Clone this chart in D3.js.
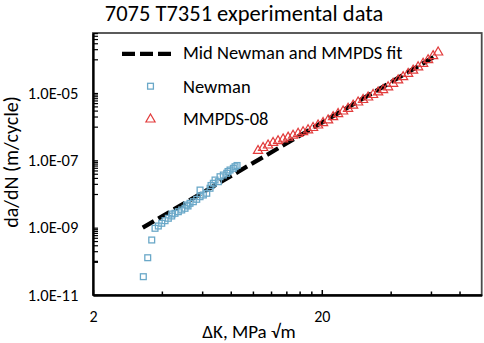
<!DOCTYPE html>
<html>
<head>
<meta charset="utf-8">
<script src="https://cdn.jsdelivr.net/npm/d3@7"></script>
<style>
  html, body { margin: 0; padding: 0; background: #fff; }
  svg text { font-family: Carlito, Lato, "Open Sans", sans-serif; fill: #000; }
</style>
</head>
<body>
<svg id="chart" width="484" height="343"></svg>
<script>
// ---- Data ----
const titleText = "7075 T7351 experimental data";
const xTitle = "ΔK, MPa √m";
const yTitle = "da/dN (m/cycle)";
const seriesNames = ["Mid Newman and MMPDS fit", "Newman", "MMPDS-08"];

// Fit line (Paris-type straight line in log-log)
const fitK    = [3.30, 64.0];
const fitRate = [1.0e-9, 1.35e-4];

// Newman data (ΔK, da/dN)
const newmanK = [3.319, 3.469, 3.612, 3.734, 3.860, 3.995, 4.130, 4.269, 4.417, 4.430, 4.566, 4.721,
  4.885, 5.050, 5.137, 5.205, 5.310, 5.491, 5.681, 5.874, 5.874, 6.073, 6.284, 6.496, 6.561, 6.714,
  6.831, 7.062, 7.183, 7.425, 7.684, 7.785, 7.943, 8.213, 8.354, 8.525];
const newmanRate = [3.50e-11, 1.28e-10, 4.30e-10, 9.57e-10, 1.12e-9, 1.35e-9, 1.61e-9, 1.90e-9, 2.22e-9, 2.54e-9, 2.67e-9, 2.98e-9,
  3.35e-9, 3.76e-9, 4.71e-9, 4.40e-9, 5.29e-9, 5.90e-9, 6.96e-9, 1.31e-8, 8.31e-9, 9.33e-9, 1.05e-8, 1.48e-8, 1.79e-8, 2.08e-8,
  2.60e-8, 2.32e-8, 3.26e-8, 3.66e-8, 4.12e-8, 4.66e-8, 5.16e-8, 5.79e-8, 6.46e-8, 7.02e-8];

// MMPDS-08 data (ΔK, da/dN)
const mmpdsK = [10.53, 11.08, 11.65, 12.25, 12.88, 13.55, 14.25, 14.98, 15.76, 16.57, 17.42, 18.32,
  19.27, 20.26, 21.31, 22.41, 23.57, 24.79, 26.06, 27.41, 28.83, 30.31, 31.88, 33.52, 35.26, 37.07,
  38.98, 41.00, 43.12, 45.34, 47.69, 50.14, 52.73, 55.46, 58.32, 61.33, 64.50];
const mmpdsRate = [2.03e-7, 2.49e-7, 2.95e-7, 3.50e-7, 3.96e-7, 4.48e-7, 5.06e-7, 5.77e-7, 6.57e-7, 7.33e-7, 8.34e-7, 9.76e-7,
  1.16e-6, 1.37e-6, 1.64e-6, 2.06e-6, 2.54e-6, 3.02e-6, 3.63e-6, 4.52e-6, 5.58e-6, 6.63e-6, 7.86e-6, 9.33e-6, 1.11e-5, 1.31e-5,
  1.58e-5, 2.01e-5, 2.53e-5, 3.17e-5, 3.95e-5, 4.95e-5, 6.20e-5, 7.88e-5, 1.01e-4, 1.33e-4, 1.71e-4];

// Axes
const xDomain = [2, 100];
const yDomain = [1e-11, 6.05e-4];
const xMajorTicks = [2, 20];
const xTickLabels = ["2", "20"];
const xMinorTicks = [4, 6, 8, 10, 12, 14, 16, 18, 40, 60, 80];
const yMajorTicks = [1e-11, 1e-9, 1e-7, 1e-5];
const yTickLabels = ["1.0E-11", "1.0E-09", "1.0E-07", "1.0E-05"];
const yMinorMultipliers = [1, 2, 3, 4, 5, 6, 7, 8, 9];
const yMinorDecades = [1e-10, 1e-8, 1e-6, 1e-4];

// ---- Layout ----
const W = 484, H = 343;
const plot = { left: 93, right: 481.7, top: 33, bottom: 295 };
const svg = d3.select("#chart");

const x = d3.scaleLog().domain(xDomain).range([plot.left, plot.right]);
const y = d3.scaleLog().domain(yDomain).range([plot.bottom, plot.top]);

const yMinorTicks = [];
yMinorDecades.forEach(d => yMinorMultipliers.forEach(m => {
  const v = d * m;
  if (v <= yDomain[1]) yMinorTicks.push(v);
}));

// Plot frame (top/right gray)
svg.append("rect")
  .attr("x", plot.left).attr("y", plot.top)
  .attr("width", plot.right - plot.left).attr("height", plot.bottom - plot.top)
  .attr("fill", "none").attr("stroke", "#4a4a4a").attr("stroke-width", 1.8);

// Fit line
const line = d3.line().x(d => x(d[0])).y(d => y(d[1]));
svg.append("path")
  .datum(fitK.map((k, i) => [k, fitRate[i]]))
  .attr("d", line)
  .attr("fill", "none").attr("stroke", "#000").attr("stroke-width", 4.3)
  .attr("stroke-dasharray", "13,5");

// Markers
const sq = 5.8;
const newmanColor = "#6aa8c8";
const mmpdsColor = "#e23b3b";
const triPath = "M0,-4.5L4.6,3.5L-4.6,3.5Z";

svg.append("g").selectAll("rect")
  .data(newmanK.map((k, i) => [k, newmanRate[i]]))
  .join("rect")
  .attr("x", d => x(d[0]) - sq / 2).attr("y", d => y(d[1]) - sq / 2)
  .attr("width", sq).attr("height", sq)
  .attr("fill", "none").attr("stroke", newmanColor).attr("stroke-width", 1.3);

svg.append("g").selectAll("path")
  .data(mmpdsK.map((k, i) => [k, mmpdsRate[i]]))
  .join("path")
  .attr("transform", d => `translate(${x(d[0])},${y(d[1])})`)
  .attr("d", triPath)
  .attr("fill", "none").attr("stroke", mmpdsColor).attr("stroke-width", 1.2);

// X axis
const gx = svg.append("g").attr("transform", `translate(0,${plot.bottom})`);
gx.call(d3.axisBottom(x).tickValues(xMinorTicks).tickSizeInner(-3.5).tickSizeOuter(0).tickFormat(""));
gx.append("g").call(d3.axisBottom(x).tickValues(xMajorTicks).tickSizeInner(-5).tickSizeOuter(0)
  .tickPadding(16).tickFormat((d, i) => xTickLabels[i]));
gx.selectAll(".tick line").attr("stroke", "#000").attr("stroke-width", 1.5);
gx.selectAll(".domain").attr("stroke", "#000").attr("stroke-width", 1.8);
gx.selectAll("text").style("font-size", "16px").attr("fill", "#000");

// Y axis
const gy = svg.append("g").attr("transform", `translate(${plot.left},0)`);
gy.call(d3.axisLeft(y).tickValues(yMinorTicks).tickSizeInner(-5).tickSizeOuter(0).tickFormat(""));
gy.append("g").call(d3.axisLeft(y).tickValues(yMajorTicks).tickSizeInner(-5).tickSizeOuter(0)
  .tickPadding(14.7).tickFormat((d, i) => yTickLabels[i]));
gy.selectAll(".tick line").attr("stroke", "#000").attr("stroke-width", 1.2);
gy.select("g").selectAll(".tick line").attr("stroke-width", 2.2);
gy.selectAll(".domain").attr("stroke", "#000").attr("stroke-width", 1.8);
gy.selectAll("text").style("font-size", "16.5px").attr("fill", "#000");

// Titles
svg.append("text").attr("x", 244).attr("y", 21).attr("text-anchor", "middle")
  .style("font-size", "22.5px").text(titleText);
svg.append("text").attr("x", 249).attr("y", 338).attr("text-anchor", "middle")
  .style("font-size", "19px").text(xTitle);
svg.append("text").attr("transform", "translate(18,162) rotate(-90)").attr("text-anchor", "middle")
  .style("font-size", "20px").text(yTitle);

// Legend
const lg = svg.append("g");
lg.append("line").attr("x1", 122).attr("x2", 172).attr("y1", 53.8).attr("y2", 53.8)
  .attr("stroke", "#000").attr("stroke-width", 4.3).attr("stroke-dasharray", "13,5");
lg.append("rect").attr("x", 150.5 - sq / 2).attr("y", 86.2 - sq / 2).attr("width", sq).attr("height", sq)
  .attr("fill", "none").attr("stroke", newmanColor).attr("stroke-width", 1.3);
lg.append("path").attr("transform", "translate(150.5,118.5)").attr("d", triPath)
  .attr("fill", "none").attr("stroke", mmpdsColor).attr("stroke-width", 1.2);
const legendY = [59.3, 93.3, 125];
seriesNames.forEach((n, i) => {
  lg.append("text").attr("x", 183).attr("y", legendY[i]).style("font-size", "18.5px").text(n);
});
</script>
</body>
</html>
